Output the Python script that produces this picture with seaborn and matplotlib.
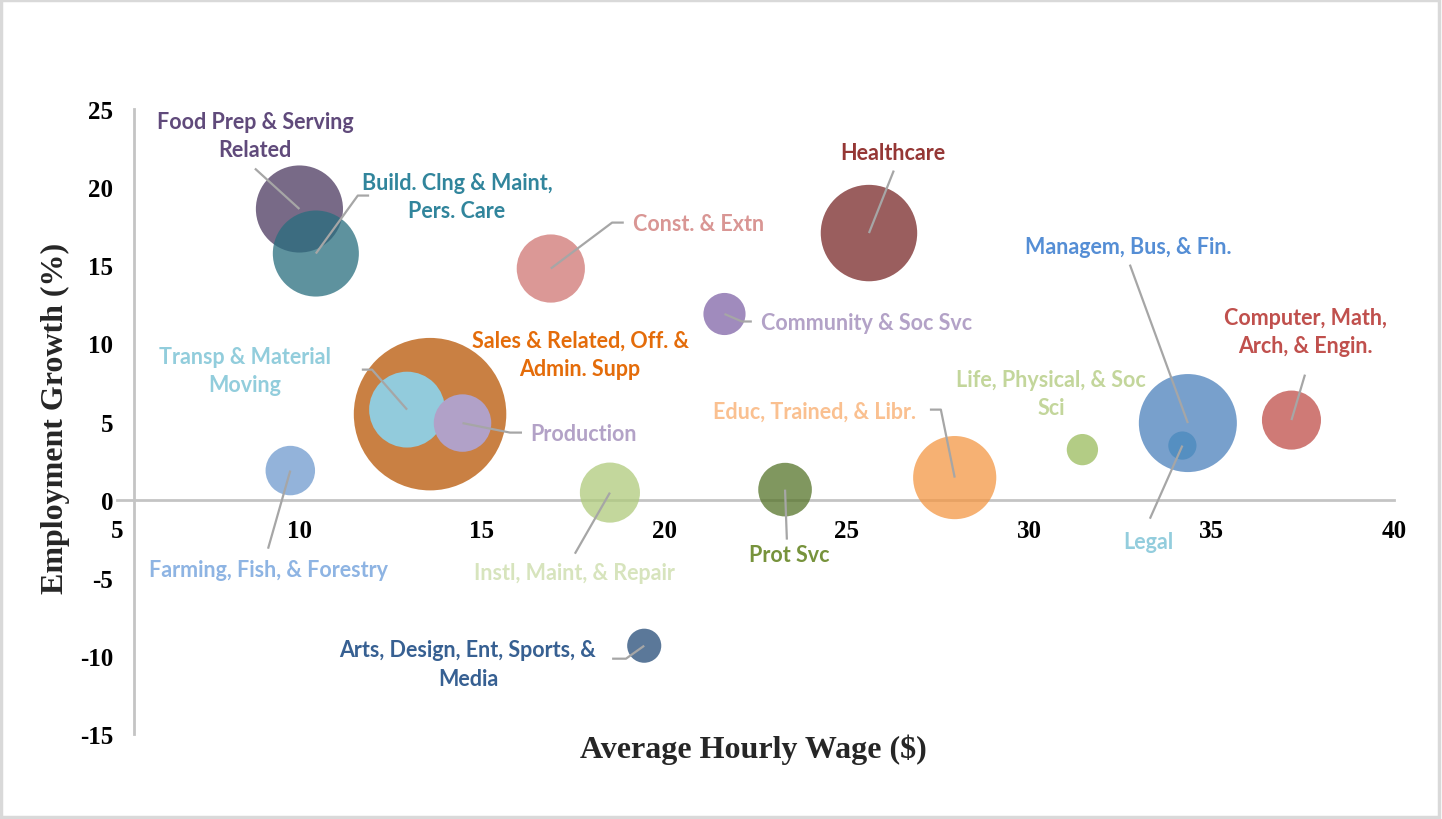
import matplotlib
matplotlib.use("Agg")
import matplotlib.pyplot as plt
import numpy as np
import pandas as pd
import seaborn as sns
from matplotlib.colors import to_rgb
from matplotlib.patches import Rectangle

# ---------------- data ----------------
categories = [
    "Food Prep & Serving\nRelated",
    "Build. Clng & Maint,\nPers. Care",
    "Const. & Extn",
    "Healthcare",
    "Community & Soc Svc",
    "Sales & Related, Off. &\nAdmin. Supp",
    "Transp & Material\nMoving",
    "Production",
    "Instl, Maint, & Repair",
    "Farming, Fish, & Forestry",
    "Arts, Design, Ent, Sports, &\nMedia",
    "Prot Svc",
    "Educ, Trained, & Libr.",
    "Life, Physical, & Soc\nSci",
    "Managem, Bus, & Fin.",
    "Legal",
    "Computer, Math,\nArch, & Engin.",
]
hourly_wage = [10.0, 10.45, 16.89, 25.61, 21.65, 13.58, 12.95, 14.47, 18.51,
               9.75, 19.45, 23.31, 27.96, 31.46, 34.35, 34.20, 37.19]
employment_growth = [18.6, 15.75, 14.79, 17.06, 11.88, 5.47, 5.76, 4.90, 0.45,
                     1.86, -9.35, 0.64, 1.41, 3.20, 4.90, 3.46, 5.09]
bubble_size = [12.4, 12.1, 7.6, 15.2, 2.9, 38.0, 9.4, 5.4, 5.9,
               4.0, 1.9, 4.7, 11.3, 1.6, 15.7, 1.3, 5.7]

x_ticks = [5, 10, 15, 20, 25, 30, 35, 40]
y_ticks = [-15, -10, -5, 0, 5, 10, 15, 20, 25]
x_title = "Average Hourly Wage ($)"
y_title = "Employment Growth (%)"

# ---------------- styles ----------------
bubble_colors = ["#786a87", "#5e929e", "#dc9896", "#9a5e5e", "#a08bbd", "#c98043",
                 "#92cbdc", "#b1a1c8", "#c3d79c", "#93b3da", "#5b7899", "#80975f",
                 "#f6b173", "#b3cc85", "#78a0cd", "#558fc1", "#cf7a76"]
bubble_alpha = [0.75, 0.75, 0.75, 0.75, 0.75, 0.75, 1.0, 1.0, 0.75,
                0.75, 0.75, 0.75, 0.75, 0.75, 0.75, 1.0, 0.75]
label_colors = ["#604a7b", "#31859c", "#d99694", "#953735", "#b3a2c7", "#e46c0a",
                "#92cddc", "#b3a2c7", "#d7e4bd", "#8eb4e3", "#376092", "#77933c",
                "#fac090", "#c3d69b", "#558ed5", "#93cddd", "#c0504d"]
label_pos = [(8.78, 23.3, "center"), (14.32, 19.4, "center"), (19.14, 17.67, "left"),
             (26.27, 22.2, "center"), (22.65, 11.33, "left"), (17.69, 9.28, "center"),
             (8.51, 8.26, "center"), (16.32, 4.23, "left"), (17.55, -4.67, "center"),
             (9.14, -4.48, "center"), (14.62, -10.5, "center"), (23.42, -3.52, "center"),
             (24.13, 5.63, "center"), (30.6, 6.79, "center"), (32.73, 16.2, "center"),
             (33.28, -2.69, "center"), (37.56, 10.76, "center")]
leader_pts = [[(8.78, 21.19)], [(11.91, 19.46), (11.60, 19.46)], [(18.89, 17.73), (18.57, 17.73)],
              [(26.29, 21.06)], [(22.40, 11.4), (22.13, 11.4)], None,
              [(11.71, 8.32), (11.99, 8.32)], [(16.10, 4.29), (15.77, 4.29)], [(17.55, -3.46)],
              [(9.14, -3.14)], [(18.57, -10.18), (18.95, -10.18)], [(23.36, -2.56)],
              [(27.28, 5.76), (27.58, 5.76)], None, [(32.76, 15.04)],
              [(33.31, -1.22)], [(37.56, 8.0)]]


def base_rgba(hex_obs, a):
    obs = np.array(to_rgb(hex_obs))
    base = np.clip((obs - (1 - a)) / a, 0, 1)
    return (base[0], base[1], base[2], a)


palette = {c: base_rgba(col, a) for c, col, a in zip(categories, bubble_colors, bubble_alpha)}

df = pd.DataFrame({"category": categories, "wage": hourly_wage,
                   "growth": employment_growth, "size": bubble_size})

sns.set_theme(style="white")
plt.rcParams['font.family'] = ['Lato', 'DejaVu Sans']
plt.rcParams['axes.unicode_minus'] = False

W, H = 1442, 820
fig = plt.figure(figsize=(W / 100, H / 100), dpi=100)
ax = fig.add_axes([117 / W, 1 - 735 / H, (1394 - 117) / W, (735 - 110) / H])

max_d_pt = 152.5 * 0.72
sns.scatterplot(data=df, x="wage", y="growth", hue="category", size="size",
                palette=palette, sizes=(0, max_d_pt ** 2), size_norm=(0, max(bubble_size)),
                linewidth=0, legend=False, ax=ax, zorder=3)

ax.set_xlim(5, 40)
ax.set_ylim(-15, 25)
ax.set_xticks(x_ticks)
ax.set_yticks(y_ticks)
ax.set_xlabel("")
ax.set_ylabel("")
ax.grid(False)

for s in ["top", "right"]:
    ax.spines[s].set_visible(False)
ax.spines["bottom"].set_position(("data", 0))
ax.spines["left"].set_position(("data", 5.47))
ax.spines["left"].set_bounds(-15, 25)
for s in ["bottom", "left"]:
    ax.spines[s].set_color("#c4c4c4")
    ax.spines[s].set_linewidth(2.0)
    ax.spines[s].set_zorder(1)

ax.tick_params(axis="x", length=0, pad=14)
ax.tick_params(axis="y", length=0, pad=15)
for lab in ax.get_xticklabels() + ax.get_yticklabels():
    lab.set_fontfamily("Liberation Serif")
    lab.set_fontweight("bold")
    lab.set_fontsize(18)
    lab.set_color("black")

# labels and leader lines
for i, cat in enumerate(categories):
    lx, ly, ha = label_pos[i]
    ax.text(lx, ly, cat, color=label_colors[i], ha=ha, va="center",
            fontsize=15.5, fontweight="bold", linespacing=1.45, zorder=6)
    if leader_pts[i] is not None:
        pts = leader_pts[i] + [(hourly_wage[i], employment_growth[i])]
        xs, ys = zip(*pts)
        ax.plot(xs, ys, color="#a6a6a6", lw=1.6, zorder=5, solid_capstyle="butt")

fig.text(753 / W, 1 - 750 / H, x_title, ha="center", va="center",
         family="Liberation Serif", weight="bold", fontsize=23)
fig.text(55 / W, 1 - 418 / H, y_title, ha="center", va="center", rotation=90,
         family="Liberation Serif", weight="bold", fontsize=23)

fig.patches.append(Rectangle((0.001, 0.002), 0.997, 0.997, transform=fig.transFigure,
                             fill=False, edgecolor="#d9d9d9", lw=2.5))

fig.savefig("out.png", dpi=100)
